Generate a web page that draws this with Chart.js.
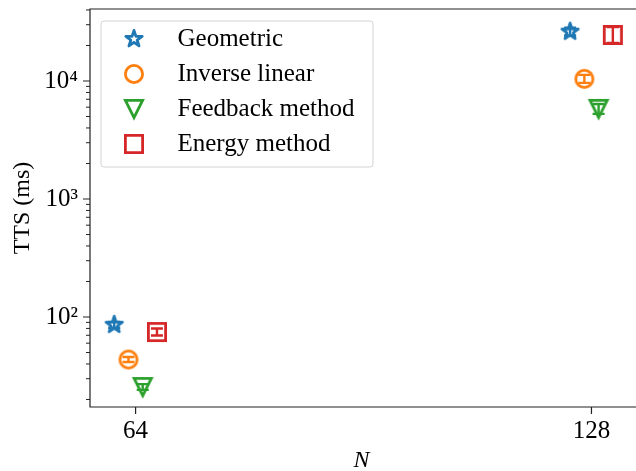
<!DOCTYPE html>
<html><head><meta charset="utf-8">
<script src="https://cdn.jsdelivr.net/npm/chart.js@4/dist/chart.umd.min.js"></script>
<style>
html,body{margin:0;padding:0;background:#fff;overflow:hidden;width:636px;height:471px}
#wrap{width:636px;height:471px;overflow:hidden}
</style></head>
<body><div id="wrap"><canvas id="c" width="638" height="471"></canvas></div>
<script>
// ---- data ----
const sizes = [64, 128];
const seriesNames = ['Geometric', 'Inverse linear', 'Feedback method', 'Energy method'];
const geometric   = [85.9, 26200];
const geometricLo = [81.0, 24300];
const geometricHi = [91.0, 28300];
const inverseLinear   = [43.6, 10430];
const inverseLinearLo = [41.5, 9650];
const inverseLinearHi = [45.8, 11270];
const feedback   = [25.5, 5800];
const feedbackLo = [24.1, 5270];
const feedbackHi = [27.0, 6390];
const energy   = [74.6, 24550];
const energyLo = [69.7, 21000];
const energyHi = [79.9, 28700];
const xTicks = [64, 128];
const yTicks = [100, 1000, 10000];
const yTickLabels = ['10\u00B2', '10\u00B3', '10\u2074'];
const yMinorTicks = [20, 30, 40, 50, 60, 70, 80, 90,
                     200, 300, 400, 500, 600, 700, 800, 900,
                     2000, 3000, 4000, 5000, 6000, 7000, 8000, 9000,
                     20000, 30000, 40000];

// ---- style ----
const colors = ['#1f77b4', '#ff7f0e', '#2ca02c', '#d62728'];
const markerKinds = ['star', 'circle', 'tri', 'square'];
const dodge = [-3, -1, 1, 3];
const FONT = "'Liberation Serif', 'DejaVu Serif', serif";
const INK = '#000';

function makeMarker(kind, color) {
  const s = 30, c = document.createElement('canvas');
  c.width = s; c.height = s;
  const g = c.getContext('2d');
  g.translate(s / 2, s / 2);
  g.strokeStyle = color; g.lineWidth = 2.8;
  g.beginPath();
  if (kind === 'star') {
    const R = 8.6, r = R * 0.381966;
    for (let i = 0; i < 10; i++) {
      const a = -Math.PI / 2 + i * Math.PI / 5, rad = i % 2 ? r : R;
      g.lineTo(rad * Math.cos(a), rad * Math.sin(a));
    }
    g.closePath(); g.lineJoin = 'round';
  } else if (kind === 'circle') {
    g.arc(0, 0, 8.6, 0, 2 * Math.PI);
  } else if (kind === 'tri') {
    const h = 8.6;
    g.moveTo(0, h); g.lineTo(-h, -h); g.lineTo(h, -h); g.closePath(); g.lineJoin = 'miter';
  } else {
    g.rect(-8.6, -8.6, 17.2, 17.2); g.lineJoin = 'miter';
  }
  g.stroke();
  return c;
}

const seriesVals = [geometric, inverseLinear, feedback, energy];
const seriesLo = [geometricLo, inverseLinearLo, feedbackLo, energyLo];
const seriesHi = [geometricHi, inverseLinearHi, feedbackHi, energyHi];

const datasets = seriesNames.map((name, k) => ({
  label: name,
  data: sizes.map((n, i) => ({ x: n + dodge[k], y: seriesVals[k][i] })),
  pointStyle: makeMarker(markerKinds[k], colors[k]),
  borderColor: colors[k],
  backgroundColor: colors[k],
  showLine: false
}));

function noPad(s) { s.paddingTop = 0; s.paddingBottom = 0; s.paddingLeft = 0; s.paddingRight = 0; }

const decor = {
  id: 'decor',
  afterLayout(chart) {
    const lg = chart.legend;
    if (lg) { lg.left = 93; lg.top = 16.5; }
  },
  beforeDraw(chart) {
    const ctx = chart.ctx;
    ctx.save();
    ctx.fillStyle = '#fff';
    ctx.fillRect(0, 0, chart.width, chart.height);
    const lg = chart.legend;
    const x = lg.left + 8, y = lg.top + 4.5, w = 272, h = 146, r = 3;
    ctx.beginPath();
    ctx.moveTo(x + r, y); ctx.lineTo(x + w - r, y); ctx.arcTo(x + w, y, x + w, y + r, r);
    ctx.lineTo(x + w, y + h - r); ctx.arcTo(x + w, y + h, x + w - r, y + h, r);
    ctx.lineTo(x + r, y + h); ctx.arcTo(x, y + h, x, y + h - r, r);
    ctx.lineTo(x, y + r); ctx.arcTo(x, y, x + r, y, r); ctx.closePath();
    ctx.fillStyle = '#fff'; ctx.fill();
    ctx.strokeStyle = '#d3d3d3'; ctx.lineWidth = 1; ctx.stroke();
    ctx.restore();
  },
  afterDatasetsDraw(chart) {
    const ctx = chart.ctx, ys = chart.scales.y, xs = chart.scales.x, a = chart.chartArea;
    ctx.save();
    // error bars
    chart.data.datasets.forEach((ds, k) => {
      const meta = chart.getDatasetMeta(k);
      ctx.strokeStyle = colors[k]; ctx.lineWidth = 2.4;
      meta.data.forEach((pt, i) => {
        const y1 = ys.getPixelForValue(seriesLo[k][i]);
        const y2 = ys.getPixelForValue(seriesHi[k][i]);
        ctx.beginPath();
        ctx.moveTo(pt.x, y1); ctx.lineTo(pt.x, y2);
        ctx.moveTo(pt.x - 6, y1); ctx.lineTo(pt.x + 6, y1);
        ctx.moveTo(pt.x - 6, y2); ctx.lineTo(pt.x + 6, y2);
        ctx.stroke();
      });
    });
    // spines: top, left, bottom (right spine lies beyond the visible window)
    ctx.strokeStyle = '#222'; ctx.lineWidth = 1.2;
    ctx.beginPath();
    ctx.moveTo(chart.width + 5, a.top); ctx.lineTo(a.left, a.top);
    ctx.lineTo(a.left, a.bottom); ctx.lineTo(chart.width + 5, a.bottom);
    ctx.stroke();
    // ticks
    ctx.beginPath();
    yTicks.forEach(v => { const y = ys.getPixelForValue(v); ctx.moveTo(a.left - 7, y); ctx.lineTo(a.left, y); });
    xTicks.forEach(v => { const x = xs.getPixelForValue(v); ctx.moveTo(x, a.bottom); ctx.lineTo(x, a.bottom + 7); });
    ctx.stroke();
    ctx.lineWidth = 1;
    ctx.beginPath();
    yMinorTicks.forEach(v => { const y = ys.getPixelForValue(v); if (y >= a.top - 0.5 && y <= a.bottom + 0.5) { ctx.moveTo(a.left - 4, y); ctx.lineTo(a.left, y); } });
    ctx.stroke();
    ctx.restore();
  }
};

Chart.defaults.font.family = FONT;
Chart.defaults.color = INK;

new Chart(document.getElementById('c'), {
  type: 'scatter',
  data: { datasets },
  options: {
    responsive: false,
    animation: false,
    layout: { padding: { top: 9, left: 0, right: 1, bottom: 0 } },
    plugins: {
      tooltip: { enabled: false },
      legend: {
        position: 'chartArea',
        align: 'start',
        labels: {
          usePointStyle: true,
          pointStyleWidth: 62,
          padding: 10,
          color: INK,
          font: { family: FONT, size: 25 }
        }
      }
    },
    scales: {
      x: {
        type: 'linear',
        min: 57.6, max: 133.83,
        grid: { display: false, drawTicks: false },
        border: { display: false },
        afterBuildTicks: s => { s.ticks = xTicks.map(v => ({ value: v })); },
        afterFit: s => { s.height = 64; noPad(s); },
        ticks: {
          autoSkip: false, maxRotation: 0, padding: 9,
          color: INK, font: { family: FONT, size: 25 },
          callback: (v, i) => String(xTicks[i])
        },
        title: {
          display: true, text: 'N', color: INK,
          font: { family: FONT, size: 24, style: 'italic', lineHeight: 0.85 },
          padding: { top: 0, bottom: 0 }
        }
      },
      y: {
        type: 'logarithmic',
        min: 17.27, max: 40760,
        grid: { display: false, drawTicks: false },
        border: { display: false },
        afterBuildTicks: s => { s.ticks = yTicks.map(v => ({ value: v })); },
        afterFit: s => { s.width = 90; noPad(s); },
        ticks: {
          autoSkip: false, padding: 12,
          color: INK, font: { family: FONT, size: 25 },
          callback: (v, i) => yTickLabels[i]
        },
        title: {
          display: true, text: 'TTS (ms)', color: INK,
          font: { family: FONT, size: 24, lineHeight: 1 },
          padding: { top: 11, bottom: 0 }
        }
      }
    }
  },
  plugins: [decor]
});
</script>
</body></html>
